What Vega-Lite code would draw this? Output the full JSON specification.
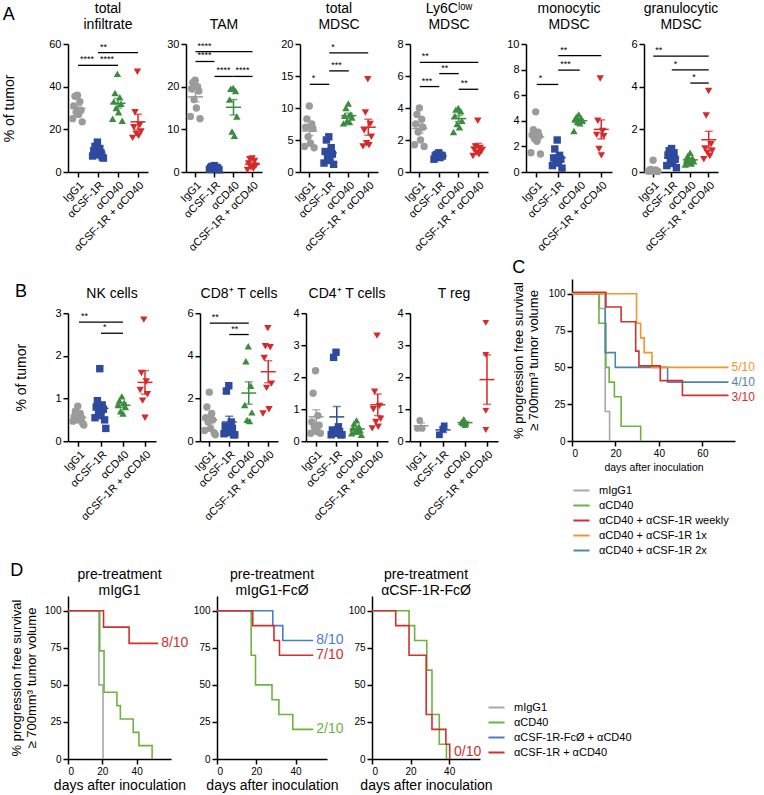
{
"$schema": "https://vega.github.io/schema/vega-lite/v6.json",
"background": "white",
"padding": {"left": 2, "top": 2, "right": 2, "bottom": 2},
"config": {
 "font": "Liberation Sans",
 "view": {"stroke": null},
 "axis": {"grid": false, "domainColor": "black", "domainWidth": 1.5, "tickColor": "black", "tickWidth": 1.5, "tickSize": 5, "labelColor": "black", "labelFontSize": 11, "titleColor": "black", "titleFontSize": 14, "titleFontWeight": "normal", "labelPadding": 2},
 "title": {"fontWeight": "normal", "fontSize": 14, "color": "black", "offset": 6},
 "legend": {"labelFontSize": 11, "labelColor": "black", "symbolType": "stroke", "symbolStrokeWidth": 2, "symbolSize": 260, "rowPadding": 0, "labelOffset": 8}
},
"datasets": {
 "dots": [
  {"panel":"infiltrate","group":"IgG1","mouse":5,"value":36},{"panel":"infiltrate","group":"IgG1","mouse":3,"value":35.5},{"panel":"infiltrate","group":"IgG1","mouse":7,"value":33},{"panel":"infiltrate","group":"IgG1","mouse":2,"value":31},{"panel":"infiltrate","group":"IgG1","mouse":8,"value":29},{"panel":"infiltrate","group":"IgG1","mouse":4,"value":28},{"panel":"infiltrate","group":"IgG1","mouse":6,"value":27},{"panel":"infiltrate","group":"IgG1","mouse":1,"value":25},{"panel":"infiltrate","group":"IgG1","mouse":9,"value":23.5},
  {"panel":"infiltrate","group":"αCSF-1R","mouse":5,"value":14},{"panel":"infiltrate","group":"αCSF-1R","mouse":3,"value":12},{"panel":"infiltrate","group":"αCSF-1R","mouse":7,"value":11},{"panel":"infiltrate","group":"αCSF-1R","mouse":2,"value":10},{"panel":"infiltrate","group":"αCSF-1R","mouse":8,"value":9},{"panel":"infiltrate","group":"αCSF-1R","mouse":4,"value":8.5},{"panel":"infiltrate","group":"αCSF-1R","mouse":6,"value":8},{"panel":"infiltrate","group":"αCSF-1R","mouse":1,"value":7.5},{"panel":"infiltrate","group":"αCSF-1R","mouse":9,"value":7},{"panel":"infiltrate","group":"αCSF-1R","mouse":10,"value":6.5},
  {"panel":"infiltrate","group":"αCD40","mouse":5,"value":46},{"panel":"infiltrate","group":"αCD40","mouse":3,"value":37},{"panel":"infiltrate","group":"αCD40","mouse":7,"value":35},{"panel":"infiltrate","group":"αCD40","mouse":2,"value":33},{"panel":"infiltrate","group":"αCD40","mouse":8,"value":32},{"panel":"infiltrate","group":"αCD40","mouse":4,"value":30},{"panel":"infiltrate","group":"αCD40","mouse":6,"value":28},{"panel":"infiltrate","group":"αCD40","mouse":1,"value":25},{"panel":"infiltrate","group":"αCD40","mouse":9,"value":24},
  {"panel":"infiltrate","group":"αCSF-1R + αCD40","mouse":5,"value":47},{"panel":"infiltrate","group":"αCSF-1R + αCD40","mouse":3,"value":28},{"panel":"infiltrate","group":"αCSF-1R + αCD40","mouse":7,"value":22},{"panel":"infiltrate","group":"αCSF-1R + αCD40","mouse":2,"value":21},{"panel":"infiltrate","group":"αCSF-1R + αCD40","mouse":8,"value":19},{"panel":"infiltrate","group":"αCSF-1R + αCD40","mouse":4,"value":18},{"panel":"infiltrate","group":"αCSF-1R + αCD40","mouse":6,"value":17},{"panel":"infiltrate","group":"αCSF-1R + αCD40","mouse":1,"value":16},

  {"panel":"TAM","group":"IgG1","mouse":5,"value":21.5},{"panel":"TAM","group":"IgG1","mouse":3,"value":21},{"panel":"TAM","group":"IgG1","mouse":7,"value":20},{"panel":"TAM","group":"IgG1","mouse":2,"value":19.5},{"panel":"TAM","group":"IgG1","mouse":8,"value":19},{"panel":"TAM","group":"IgG1","mouse":4,"value":17},{"panel":"TAM","group":"IgG1","mouse":6,"value":15},{"panel":"TAM","group":"IgG1","mouse":1,"value":13},{"panel":"TAM","group":"IgG1","mouse":9,"value":12.5},
  {"panel":"TAM","group":"αCSF-1R","mouse":5,"value":1.5},{"panel":"TAM","group":"αCSF-1R","mouse":3,"value":1.3},{"panel":"TAM","group":"αCSF-1R","mouse":7,"value":1.1},{"panel":"TAM","group":"αCSF-1R","mouse":2,"value":1.0},{"panel":"TAM","group":"αCSF-1R","mouse":8,"value":0.9},{"panel":"TAM","group":"αCSF-1R","mouse":4,"value":0.8},{"panel":"TAM","group":"αCSF-1R","mouse":6,"value":0.7},{"panel":"TAM","group":"αCSF-1R","mouse":1,"value":0.6},{"panel":"TAM","group":"αCSF-1R","mouse":9,"value":0.5},
  {"panel":"TAM","group":"αCD40","mouse":5,"value":19.7},{"panel":"TAM","group":"αCD40","mouse":3,"value":19.5},{"panel":"TAM","group":"αCD40","mouse":7,"value":19},{"panel":"TAM","group":"αCD40","mouse":2,"value":17},{"panel":"TAM","group":"αCD40","mouse":8,"value":13},{"panel":"TAM","group":"αCD40","mouse":4,"value":9.5},{"panel":"TAM","group":"αCD40","mouse":6,"value":8.5},
  {"panel":"TAM","group":"αCSF-1R + αCD40","mouse":5,"value":3.2},{"panel":"TAM","group":"αCSF-1R + αCD40","mouse":3,"value":3},{"panel":"TAM","group":"αCSF-1R + αCD40","mouse":7,"value":2.6},{"panel":"TAM","group":"αCSF-1R + αCD40","mouse":2,"value":2},{"panel":"TAM","group":"αCSF-1R + αCD40","mouse":8,"value":1.5},{"panel":"TAM","group":"αCSF-1R + αCD40","mouse":4,"value":1.1},{"panel":"TAM","group":"αCSF-1R + αCD40","mouse":6,"value":0.8},{"panel":"TAM","group":"αCSF-1R + αCD40","mouse":1,"value":0.5},

  {"panel":"MDSC","group":"IgG1","mouse":5,"value":10.3},{"panel":"MDSC","group":"IgG1","mouse":3,"value":8.3},{"panel":"MDSC","group":"IgG1","mouse":7,"value":7.5},{"panel":"MDSC","group":"IgG1","mouse":2,"value":7},{"panel":"MDSC","group":"IgG1","mouse":8,"value":6.8},{"panel":"MDSC","group":"IgG1","mouse":4,"value":5.5},{"panel":"MDSC","group":"IgG1","mouse":6,"value":4.5},{"panel":"MDSC","group":"IgG1","mouse":1,"value":4},{"panel":"MDSC","group":"IgG1","mouse":9,"value":3.8},
  {"panel":"MDSC","group":"αCSF-1R","mouse":5,"value":5.5},{"panel":"MDSC","group":"αCSF-1R","mouse":3,"value":5},{"panel":"MDSC","group":"αCSF-1R","mouse":7,"value":3.8},{"panel":"MDSC","group":"αCSF-1R","mouse":2,"value":3.2},{"panel":"MDSC","group":"αCSF-1R","mouse":8,"value":2.8},{"panel":"MDSC","group":"αCSF-1R","mouse":4,"value":2.2},{"panel":"MDSC","group":"αCSF-1R","mouse":6,"value":1.8},{"panel":"MDSC","group":"αCSF-1R","mouse":1,"value":1.4},{"panel":"MDSC","group":"αCSF-1R","mouse":9,"value":1.2},
  {"panel":"MDSC","group":"αCD40","mouse":5,"value":10.7},{"panel":"MDSC","group":"αCD40","mouse":3,"value":10},{"panel":"MDSC","group":"αCD40","mouse":7,"value":9},{"panel":"MDSC","group":"αCD40","mouse":2,"value":8.8},{"panel":"MDSC","group":"αCD40","mouse":8,"value":8.5},{"panel":"MDSC","group":"αCD40","mouse":4,"value":8},{"panel":"MDSC","group":"αCD40","mouse":6,"value":7.8},{"panel":"MDSC","group":"αCD40","mouse":1,"value":7.6},
  {"panel":"MDSC","group":"αCSF-1R + αCD40","mouse":5,"value":14.5},{"panel":"MDSC","group":"αCSF-1R + αCD40","mouse":3,"value":9.3},{"panel":"MDSC","group":"αCSF-1R + αCD40","mouse":7,"value":7.5},{"panel":"MDSC","group":"αCSF-1R + αCD40","mouse":2,"value":6.5},{"panel":"MDSC","group":"αCSF-1R + αCD40","mouse":8,"value":5.5},{"panel":"MDSC","group":"αCSF-1R + αCD40","mouse":4,"value":4.5},{"panel":"MDSC","group":"αCSF-1R + αCD40","mouse":6,"value":4.2},{"panel":"MDSC","group":"αCSF-1R + αCD40","mouse":1,"value":4.0},

  {"panel":"Ly6C","group":"IgG1","mouse":5,"value":4.0},{"panel":"Ly6C","group":"IgG1","mouse":3,"value":3.6},{"panel":"Ly6C","group":"IgG1","mouse":7,"value":3.3},{"panel":"Ly6C","group":"IgG1","mouse":2,"value":3.0},{"panel":"Ly6C","group":"IgG1","mouse":8,"value":2.8},{"panel":"Ly6C","group":"IgG1","mouse":4,"value":2.5},{"panel":"Ly6C","group":"IgG1","mouse":6,"value":2.0},{"panel":"Ly6C","group":"IgG1","mouse":1,"value":1.7},{"panel":"Ly6C","group":"IgG1","mouse":9,"value":1.6},
  {"panel":"Ly6C","group":"αCSF-1R","mouse":5,"value":1.2},{"panel":"Ly6C","group":"αCSF-1R","mouse":3,"value":1.1},{"panel":"Ly6C","group":"αCSF-1R","mouse":7,"value":1.05},{"panel":"Ly6C","group":"αCSF-1R","mouse":2,"value":1},{"panel":"Ly6C","group":"αCSF-1R","mouse":8,"value":1},{"panel":"Ly6C","group":"αCSF-1R","mouse":4,"value":0.95},{"panel":"Ly6C","group":"αCSF-1R","mouse":6,"value":0.9},{"panel":"Ly6C","group":"αCSF-1R","mouse":1,"value":0.8},
  {"panel":"Ly6C","group":"αCD40","mouse":5,"value":4.0},{"panel":"Ly6C","group":"αCD40","mouse":3,"value":3.9},{"panel":"Ly6C","group":"αCD40","mouse":7,"value":3.8},{"panel":"Ly6C","group":"αCD40","mouse":2,"value":3.5},{"panel":"Ly6C","group":"αCD40","mouse":8,"value":3.2},{"panel":"Ly6C","group":"αCD40","mouse":4,"value":3.0},{"panel":"Ly6C","group":"αCD40","mouse":6,"value":2.8},{"panel":"Ly6C","group":"αCD40","mouse":1,"value":2.5},
  {"panel":"Ly6C","group":"αCSF-1R + αCD40","mouse":5,"value":3.2},{"panel":"Ly6C","group":"αCSF-1R + αCD40","mouse":3,"value":1.6},{"panel":"Ly6C","group":"αCSF-1R + αCD40","mouse":7,"value":1.5},{"panel":"Ly6C","group":"αCSF-1R + αCD40","mouse":2,"value":1.4},{"panel":"Ly6C","group":"αCSF-1R + αCD40","mouse":8,"value":1.3},{"panel":"Ly6C","group":"αCSF-1R + αCD40","mouse":4,"value":1.2},{"panel":"Ly6C","group":"αCSF-1R + αCD40","mouse":6,"value":1.1},{"panel":"Ly6C","group":"αCSF-1R + αCD40","mouse":1,"value":1.0},

  {"panel":"mono","group":"IgG1","mouse":5,"value":4.7},{"panel":"mono","group":"IgG1","mouse":3,"value":3.3},{"panel":"mono","group":"IgG1","mouse":7,"value":3.1},{"panel":"mono","group":"IgG1","mouse":2,"value":2.9},{"panel":"mono","group":"IgG1","mouse":8,"value":2.8},{"panel":"mono","group":"IgG1","mouse":4,"value":2.6},{"panel":"mono","group":"IgG1","mouse":6,"value":2.4},{"panel":"mono","group":"IgG1","mouse":1,"value":1.5},{"panel":"mono","group":"IgG1","mouse":9,"value":1.4},
  {"panel":"mono","group":"αCSF-1R","mouse":5,"value":2.5},{"panel":"mono","group":"αCSF-1R","mouse":3,"value":1.8},{"panel":"mono","group":"αCSF-1R","mouse":7,"value":1.3},{"panel":"mono","group":"αCSF-1R","mouse":2,"value":1.1},{"panel":"mono","group":"αCSF-1R","mouse":8,"value":1.0},{"panel":"mono","group":"αCSF-1R","mouse":4,"value":0.9},{"panel":"mono","group":"αCSF-1R","mouse":6,"value":0.7},{"panel":"mono","group":"αCSF-1R","mouse":1,"value":0.5},{"panel":"mono","group":"αCSF-1R","mouse":9,"value":0.3},
  {"panel":"mono","group":"αCD40","mouse":5,"value":4.5},{"panel":"mono","group":"αCD40","mouse":3,"value":4.3},{"panel":"mono","group":"αCD40","mouse":7,"value":4.2},{"panel":"mono","group":"αCD40","mouse":2,"value":4.1},{"panel":"mono","group":"αCD40","mouse":8,"value":4.0},{"panel":"mono","group":"αCD40","mouse":4,"value":3.9},{"panel":"mono","group":"αCD40","mouse":6,"value":3.8},{"panel":"mono","group":"αCD40","mouse":1,"value":3.2},
  {"panel":"mono","group":"αCSF-1R + αCD40","mouse":5,"value":7.3},{"panel":"mono","group":"αCSF-1R + αCD40","mouse":3,"value":4.0},{"panel":"mono","group":"αCSF-1R + αCD40","mouse":7,"value":3.2},{"panel":"mono","group":"αCSF-1R + αCD40","mouse":2,"value":2.9},{"panel":"mono","group":"αCSF-1R + αCD40","mouse":8,"value":2.8},{"panel":"mono","group":"αCSF-1R + αCD40","mouse":4,"value":1.8},{"panel":"mono","group":"αCSF-1R + αCD40","mouse":6,"value":1.3},

  {"panel":"gran","group":"IgG1","mouse":5,"value":0.55},{"panel":"gran","group":"IgG1","mouse":3,"value":0.12},{"panel":"gran","group":"IgG1","mouse":7,"value":0.1},{"panel":"gran","group":"IgG1","mouse":2,"value":0.08},{"panel":"gran","group":"IgG1","mouse":8,"value":0.06},{"panel":"gran","group":"IgG1","mouse":4,"value":0.05},{"panel":"gran","group":"IgG1","mouse":6,"value":0.04},{"panel":"gran","group":"IgG1","mouse":1,"value":0.03},{"panel":"gran","group":"IgG1","mouse":9,"value":0.02},
  {"panel":"gran","group":"αCSF-1R","mouse":5,"value":1.1},{"panel":"gran","group":"αCSF-1R","mouse":3,"value":1.0},{"panel":"gran","group":"αCSF-1R","mouse":7,"value":0.9},{"panel":"gran","group":"αCSF-1R","mouse":2,"value":0.8},{"panel":"gran","group":"αCSF-1R","mouse":8,"value":0.6},{"panel":"gran","group":"αCSF-1R","mouse":4,"value":0.5},{"panel":"gran","group":"αCSF-1R","mouse":6,"value":0.4},{"panel":"gran","group":"αCSF-1R","mouse":1,"value":0.3},{"panel":"gran","group":"αCSF-1R","mouse":9,"value":0.2},
  {"panel":"gran","group":"αCD40","mouse":5,"value":0.9},{"panel":"gran","group":"αCD40","mouse":3,"value":0.75},{"panel":"gran","group":"αCD40","mouse":7,"value":0.65},{"panel":"gran","group":"αCD40","mouse":2,"value":0.55},{"panel":"gran","group":"αCD40","mouse":8,"value":0.5},{"panel":"gran","group":"αCD40","mouse":4,"value":0.45},{"panel":"gran","group":"αCD40","mouse":6,"value":0.4},{"panel":"gran","group":"αCD40","mouse":1,"value":0.35},
  {"panel":"gran","group":"αCSF-1R + αCD40","mouse":5,"value":3.8},{"panel":"gran","group":"αCSF-1R + αCD40","mouse":3,"value":2.65},{"panel":"gran","group":"αCSF-1R + αCD40","mouse":7,"value":1.3},{"panel":"gran","group":"αCSF-1R + αCD40","mouse":2,"value":1.1},{"panel":"gran","group":"αCSF-1R + αCD40","mouse":8,"value":1.0},{"panel":"gran","group":"αCSF-1R + αCD40","mouse":4,"value":0.9},{"panel":"gran","group":"αCSF-1R + αCD40","mouse":6,"value":0.75},{"panel":"gran","group":"αCSF-1R + αCD40","mouse":1,"value":0.6},

  {"panel":"NK","group":"IgG1","mouse":5,"value":0.82},{"panel":"NK","group":"IgG1","mouse":3,"value":0.7},{"panel":"NK","group":"IgG1","mouse":7,"value":0.65},{"panel":"NK","group":"IgG1","mouse":2,"value":0.58},{"panel":"NK","group":"IgG1","mouse":8,"value":0.55},{"panel":"NK","group":"IgG1","mouse":4,"value":0.5},{"panel":"NK","group":"IgG1","mouse":6,"value":0.5},{"panel":"NK","group":"IgG1","mouse":1,"value":0.47},{"panel":"NK","group":"IgG1","mouse":9,"value":0.42},{"panel":"NK","group":"IgG1","mouse":10,"value":0.38},
  {"panel":"NK","group":"αCSF-1R","mouse":5,"value":1.7},{"panel":"NK","group":"αCSF-1R","mouse":3,"value":0.95},{"panel":"NK","group":"αCSF-1R","mouse":7,"value":0.85},{"panel":"NK","group":"αCSF-1R","mouse":2,"value":0.8},{"panel":"NK","group":"αCSF-1R","mouse":8,"value":0.75},{"panel":"NK","group":"αCSF-1R","mouse":4,"value":0.7},{"panel":"NK","group":"αCSF-1R","mouse":6,"value":0.6},{"panel":"NK","group":"αCSF-1R","mouse":1,"value":0.55},{"panel":"NK","group":"αCSF-1R","mouse":9,"value":0.5},{"panel":"NK","group":"αCSF-1R","mouse":10,"value":0.3},
  {"panel":"NK","group":"αCD40","mouse":5,"value":1.05},{"panel":"NK","group":"αCD40","mouse":3,"value":0.95},{"panel":"NK","group":"αCD40","mouse":7,"value":0.9},{"panel":"NK","group":"αCD40","mouse":2,"value":0.85},{"panel":"NK","group":"αCD40","mouse":8,"value":0.8},{"panel":"NK","group":"αCD40","mouse":4,"value":0.7},{"panel":"NK","group":"αCD40","mouse":6,"value":0.65},
  {"panel":"NK","group":"αCSF-1R + αCD40","mouse":5,"value":2.85},{"panel":"NK","group":"αCSF-1R + αCD40","mouse":3,"value":1.6},{"panel":"NK","group":"αCSF-1R + αCD40","mouse":7,"value":1.4},{"panel":"NK","group":"αCSF-1R + αCD40","mouse":2,"value":1.2},{"panel":"NK","group":"αCSF-1R + αCD40","mouse":8,"value":1.1},{"panel":"NK","group":"αCSF-1R + αCD40","mouse":4,"value":0.95},{"panel":"NK","group":"αCSF-1R + αCD40","mouse":6,"value":0.55},

  {"panel":"CD8","group":"IgG1","mouse":5,"value":2.3},{"panel":"CD8","group":"IgG1","mouse":3,"value":1.6},{"panel":"CD8","group":"IgG1","mouse":7,"value":1.3},{"panel":"CD8","group":"IgG1","mouse":2,"value":1.1},{"panel":"CD8","group":"IgG1","mouse":8,"value":1.0},{"panel":"CD8","group":"IgG1","mouse":4,"value":0.9},{"panel":"CD8","group":"IgG1","mouse":6,"value":0.6},{"panel":"CD8","group":"IgG1","mouse":1,"value":0.5},{"panel":"CD8","group":"IgG1","mouse":9,"value":0.4},{"panel":"CD8","group":"IgG1","mouse":10,"value":0.3},
  {"panel":"CD8","group":"αCSF-1R","mouse":5,"value":2.6},{"panel":"CD8","group":"αCSF-1R","mouse":3,"value":2.35},{"panel":"CD8","group":"αCSF-1R","mouse":7,"value":0.9},{"panel":"CD8","group":"αCSF-1R","mouse":2,"value":0.7},{"panel":"CD8","group":"αCSF-1R","mouse":8,"value":0.6},{"panel":"CD8","group":"αCSF-1R","mouse":4,"value":0.5},{"panel":"CD8","group":"αCSF-1R","mouse":6,"value":0.4},{"panel":"CD8","group":"αCSF-1R","mouse":1,"value":0.35},{"panel":"CD8","group":"αCSF-1R","mouse":9,"value":0.3},{"panel":"CD8","group":"αCSF-1R","mouse":10,"value":0.3},
  {"panel":"CD8","group":"αCD40","mouse":5,"value":4.45},{"panel":"CD8","group":"αCD40","mouse":3,"value":3.75},{"panel":"CD8","group":"αCD40","mouse":7,"value":2.6},{"panel":"CD8","group":"αCD40","mouse":2,"value":1.7},{"panel":"CD8","group":"αCD40","mouse":8,"value":1.35},{"panel":"CD8","group":"αCD40","mouse":4,"value":1.0},{"panel":"CD8","group":"αCD40","mouse":6,"value":0.95},
  {"panel":"CD8","group":"αCSF-1R + αCD40","mouse":5,"value":5.3},{"panel":"CD8","group":"αCSF-1R + αCD40","mouse":3,"value":4.45},{"panel":"CD8","group":"αCSF-1R + αCD40","mouse":7,"value":4.4},{"panel":"CD8","group":"αCSF-1R + αCD40","mouse":2,"value":3.9},{"panel":"CD8","group":"αCSF-1R + αCD40","mouse":8,"value":2.7},{"panel":"CD8","group":"αCSF-1R + αCD40","mouse":4,"value":2.5},{"panel":"CD8","group":"αCSF-1R + αCD40","mouse":6,"value":1.5},{"panel":"CD8","group":"αCSF-1R + αCD40","mouse":1,"value":1.3},

  {"panel":"CD4","group":"IgG1","mouse":5,"value":2.2},{"panel":"CD4","group":"IgG1","mouse":3,"value":1.5},{"panel":"CD4","group":"IgG1","mouse":7,"value":0.8},{"panel":"CD4","group":"IgG1","mouse":2,"value":0.6},{"panel":"CD4","group":"IgG1","mouse":8,"value":0.5},{"panel":"CD4","group":"IgG1","mouse":4,"value":0.45},{"panel":"CD4","group":"IgG1","mouse":6,"value":0.3},{"panel":"CD4","group":"IgG1","mouse":1,"value":0.25},{"panel":"CD4","group":"IgG1","mouse":9,"value":0.25},
  {"panel":"CD4","group":"αCSF-1R","mouse":5,"value":2.78},{"panel":"CD4","group":"αCSF-1R","mouse":3,"value":2.62},{"panel":"CD4","group":"αCSF-1R","mouse":7,"value":0.45},{"panel":"CD4","group":"αCSF-1R","mouse":2,"value":0.35},{"panel":"CD4","group":"αCSF-1R","mouse":8,"value":0.3},{"panel":"CD4","group":"αCSF-1R","mouse":4,"value":0.25},{"panel":"CD4","group":"αCSF-1R","mouse":6,"value":0.25},{"panel":"CD4","group":"αCSF-1R","mouse":1,"value":0.2},{"panel":"CD4","group":"αCSF-1R","mouse":9,"value":0.2},{"panel":"CD4","group":"αCSF-1R","mouse":10,"value":0.2},
  {"panel":"CD4","group":"αCD40","mouse":5,"value":0.65},{"panel":"CD4","group":"αCD40","mouse":3,"value":0.55},{"panel":"CD4","group":"αCD40","mouse":7,"value":0.45},{"panel":"CD4","group":"αCD40","mouse":2,"value":0.4},{"panel":"CD4","group":"αCD40","mouse":8,"value":0.35},{"panel":"CD4","group":"αCD40","mouse":4,"value":0.3},{"panel":"CD4","group":"αCD40","mouse":6,"value":0.3},{"panel":"CD4","group":"αCD40","mouse":1,"value":0.25},{"panel":"CD4","group":"αCD40","mouse":9,"value":0.2},
  {"panel":"CD4","group":"αCSF-1R + αCD40","mouse":5,"value":3.3},{"panel":"CD4","group":"αCSF-1R + αCD40","mouse":3,"value":1.55},{"panel":"CD4","group":"αCSF-1R + αCD40","mouse":7,"value":1.1},{"panel":"CD4","group":"αCSF-1R + αCD40","mouse":2,"value":1.0},{"panel":"CD4","group":"αCSF-1R + αCD40","mouse":8,"value":0.7},{"panel":"CD4","group":"αCSF-1R + αCD40","mouse":4,"value":0.6},{"panel":"CD4","group":"αCSF-1R + αCD40","mouse":6,"value":0.45},{"panel":"CD4","group":"αCSF-1R + αCD40","mouse":1,"value":0.4},

  {"panel":"Treg","group":"IgG1","mouse":5,"value":0.65},{"panel":"Treg","group":"IgG1","mouse":3,"value":0.4},{"panel":"Treg","group":"IgG1","mouse":7,"value":0.4},
  {"panel":"Treg","group":"αCSF-1R","mouse":7,"value":0.48},{"panel":"Treg","group":"αCSF-1R","mouse":6,"value":0.38},{"panel":"Treg","group":"αCSF-1R","mouse":3,"value":0.2},
  {"panel":"Treg","group":"αCD40","mouse":5,"value":0.7},{"panel":"Treg","group":"αCD40","mouse":3,"value":0.6},{"panel":"Treg","group":"αCD40","mouse":7,"value":0.55},{"panel":"Treg","group":"αCD40","mouse":4,"value":0.55},{"panel":"Treg","group":"αCD40","mouse":6,"value":0.5},
  {"panel":"Treg","group":"αCSF-1R + αCD40","mouse":5,"value":3.7},{"panel":"Treg","group":"αCSF-1R + αCD40","mouse":5,"value":2.7},{"panel":"Treg","group":"αCSF-1R + αCD40","mouse":5,"value":0.95},{"panel":"Treg","group":"αCSF-1R + αCD40","mouse":5,"value":0.35}
 ],
 "sig": [
  {"panel":"infiltrate","group":"IgG1","group2":"αCSF-1R","value":50,"stars":"****"},
  {"panel":"infiltrate","group":"αCSF-1R","group2":"αCD40","value":50,"stars":"****"},
  {"panel":"infiltrate","group":"αCSF-1R","group2":"αCSF-1R + αCD40","value":56,"stars":"**"},
  {"panel":"TAM","group":"IgG1","group2":"αCSF-1R + αCD40","value":28.2,"stars":"****"},
  {"panel":"TAM","group":"IgG1","group2":"αCSF-1R","value":25.9,"stars":"****"},
  {"panel":"TAM","group":"αCSF-1R","group2":"αCD40","value":22.4,"stars":"****"},
  {"panel":"TAM","group":"αCD40","group2":"αCSF-1R + αCD40","value":22.4,"stars":"****"},
  {"panel":"MDSC","group":"IgG1","group2":"αCSF-1R","value":13.7,"stars":"*"},
  {"panel":"MDSC","group":"αCSF-1R","group2":"αCD40","value":15.8,"stars":"***"},
  {"panel":"MDSC","group":"αCSF-1R","group2":"αCSF-1R + αCD40","value":18.6,"stars":"*"},
  {"panel":"Ly6C","group":"IgG1","group2":"αCSF-1R + αCD40","value":6.85,"stars":"**"},
  {"panel":"Ly6C","group":"αCSF-1R","group2":"αCD40","value":6.15,"stars":"**"},
  {"panel":"Ly6C","group":"IgG1","group2":"αCSF-1R","value":5.34,"stars":"***"},
  {"panel":"Ly6C","group":"αCD40","group2":"αCSF-1R + αCD40","value":5.17,"stars":"**"},
  {"panel":"mono","group":"IgG1","group2":"αCSF-1R","value":6.84,"stars":"*"},
  {"panel":"mono","group":"αCSF-1R","group2":"αCD40","value":7.96,"stars":"***"},
  {"panel":"mono","group":"αCSF-1R","group2":"αCSF-1R + αCD40","value":9.09,"stars":"**"},
  {"panel":"gran","group":"IgG1","group2":"αCSF-1R + αCD40","value":5.43,"stars":"**"},
  {"panel":"gran","group":"αCSF-1R","group2":"αCSF-1R + αCD40","value":4.79,"stars":"*"},
  {"panel":"gran","group":"αCD40","group2":"αCSF-1R + αCD40","value":4.17,"stars":"*"},
  {"panel":"NK","group":"IgG1","group2":"αCD40","value":2.79,"stars":"**"},
  {"panel":"NK","group":"αCSF-1R","group2":"αCD40","value":2.53,"stars":"*"},
  {"panel":"CD8","group":"IgG1","group2":"αCD40","value":5.53,"stars":"**"},
  {"panel":"CD8","group":"αCSF-1R","group2":"αCD40","value":5.0,"stars":"**"}
 ],
 "surv": [
  {"panel":"C","series":"mIgG1","day":0,"pct":100},{"panel":"C","series":"mIgG1","day":12.6,"pct":90},{"panel":"C","series":"mIgG1","day":15.3,"pct":20},{"panel":"C","series":"mIgG1","day":17.3,"pct":0},
  {"panel":"C","series":"αCD40","day":0,"pct":100},{"panel":"C","series":"αCD40","day":12.4,"pct":80},{"panel":"C","series":"αCD40","day":15.6,"pct":50},{"panel":"C","series":"αCD40","day":17.1,"pct":40},{"panel":"C","series":"αCD40","day":19.5,"pct":30},{"panel":"C","series":"αCD40","day":22.6,"pct":10},{"panel":"C","series":"αCD40","day":31.6,"pct":0},
  {"panel":"C","series":"αCD40 + αCSF-1R 2x","day":0,"pct":100},{"panel":"C","series":"αCD40 + αCSF-1R 2x","day":15.3,"pct":60},{"panel":"C","series":"αCD40 + αCSF-1R 2x","day":19.9,"pct":50},{"panel":"C","series":"αCD40 + αCSF-1R 2x","day":44,"pct":40},{"panel":"C","series":"αCD40 + αCSF-1R 2x","day":72,"pct":40},
  {"panel":"C","series":"αCD40 + αCSF-1R 1x","day":0,"pct":100},{"panel":"C","series":"αCD40 + αCSF-1R 1x","day":29.7,"pct":80},{"panel":"C","series":"αCD40 + αCSF-1R 1x","day":31.6,"pct":70},{"panel":"C","series":"αCD40 + αCSF-1R 1x","day":33.2,"pct":60},{"panel":"C","series":"αCD40 + αCSF-1R 1x","day":36.8,"pct":50},{"panel":"C","series":"αCD40 + αCSF-1R 1x","day":72,"pct":50},
  {"panel":"C","series":"αCD40 + αCSF-1R weekly","day":0,"pct":101},{"panel":"C","series":"αCD40 + αCSF-1R weekly","day":15.6,"pct":91},{"panel":"C","series":"αCD40 + αCSF-1R weekly","day":22.6,"pct":81},{"panel":"C","series":"αCD40 + αCSF-1R weekly","day":29.3,"pct":61},{"panel":"C","series":"αCD40 + αCSF-1R weekly","day":30.8,"pct":51},{"panel":"C","series":"αCD40 + αCSF-1R weekly","day":40.6,"pct":41},{"panel":"C","series":"αCD40 + αCSF-1R weekly","day":50.8,"pct":31},{"panel":"C","series":"αCD40 + αCSF-1R weekly","day":72,"pct":31},

  {"panel":"D1","series":"mIgG1","day":0,"pct":100},{"panel":"D1","series":"mIgG1","day":18,"pct":50},{"panel":"D1","series":"mIgG1","day":20.4,"pct":0},
  {"panel":"D1","series":"αCD40","day":0,"pct":100},{"panel":"D1","series":"αCD40","day":18.5,"pct":73},{"panel":"D1","series":"αCD40","day":21,"pct":45},{"panel":"D1","series":"αCD40","day":28.5,"pct":36},{"panel":"D1","series":"αCD40","day":30.5,"pct":27},{"panel":"D1","series":"αCD40","day":38,"pct":18},{"panel":"D1","series":"αCD40","day":41.3,"pct":9},{"panel":"D1","series":"αCD40","day":49,"pct":0},
  {"panel":"D1","series":"αCSF-1R + αCD40","day":0,"pct":100},{"panel":"D1","series":"αCSF-1R + αCD40","day":20.7,"pct":89},{"panel":"D1","series":"αCSF-1R + αCD40","day":35.6,"pct":78},{"panel":"D1","series":"αCSF-1R + αCD40","day":52.5,"pct":78},

  {"panel":"D2","series":"αCD40","day":0,"pct":100},{"panel":"D2","series":"αCD40","day":17.4,"pct":70},{"panel":"D2","series":"αCD40","day":19.6,"pct":50},{"panel":"D2","series":"αCD40","day":28,"pct":40},{"panel":"D2","series":"αCD40","day":31.5,"pct":30},{"panel":"D2","series":"αCD40","day":38.6,"pct":20},{"panel":"D2","series":"αCD40","day":49,"pct":20},
  {"panel":"D2","series":"αCSF-1R-FcØ + αCD40","day":0,"pct":100},{"panel":"D2","series":"αCSF-1R-FcØ + αCD40","day":28.4,"pct":90},{"panel":"D2","series":"αCSF-1R-FcØ + αCD40","day":33.5,"pct":80},{"panel":"D2","series":"αCSF-1R-FcØ + αCD40","day":49,"pct":80},
  {"panel":"D2","series":"αCSF-1R + αCD40","day":0,"pct":100},{"panel":"D2","series":"αCSF-1R + αCD40","day":18.2,"pct":90},{"panel":"D2","series":"αCSF-1R + αCD40","day":29,"pct":80},{"panel":"D2","series":"αCSF-1R + αCD40","day":31.8,"pct":70},{"panel":"D2","series":"αCSF-1R + αCD40","day":49,"pct":70},

  {"panel":"D3","series":"αCD40","day":0,"pct":100},{"panel":"D3","series":"αCD40","day":19.2,"pct":90},{"panel":"D3","series":"αCD40","day":22.1,"pct":80},{"panel":"D3","series":"αCD40","day":28.4,"pct":60},{"panel":"D3","series":"αCD40","day":31.1,"pct":30},{"panel":"D3","series":"αCD40","day":34.9,"pct":10},{"panel":"D3","series":"αCD40","day":38.6,"pct":0},
  {"panel":"D3","series":"αCSF-1R + αCD40","day":0,"pct":100},{"panel":"D3","series":"αCSF-1R + αCD40","day":12.3,"pct":90},{"panel":"D3","series":"αCSF-1R + αCD40","day":19.2,"pct":70},{"panel":"D3","series":"αCSF-1R + αCD40","day":28.1,"pct":30},{"panel":"D3","series":"αCSF-1R + αCD40","day":31.1,"pct":20},{"panel":"D3","series":"αCSF-1R + αCD40","day":38.3,"pct":10},{"panel":"D3","series":"αCSF-1R + αCD40","day":40.3,"pct":0}
 ],
 "survLabels": [
  {"panel":"C","series":"αCD40 + αCSF-1R 1x","day":72,"pct":50,"label":"5/10"},
  {"panel":"C","series":"αCD40 + αCSF-1R 2x","day":72,"pct":40,"label":"4/10"},
  {"panel":"C","series":"αCD40 + αCSF-1R weekly","day":72,"pct":30,"label":"3/10"},
  {"panel":"D1","series":"αCSF-1R + αCD40","day":52.5,"pct":78,"label":"8/10"},
  {"panel":"D2","series":"αCSF-1R-FcØ + αCD40","day":49,"pct":80,"label":"8/10"},
  {"panel":"D2","series":"αCSF-1R + αCD40","day":49,"pct":70,"label":"7/10"},
  {"panel":"D2","series":"αCD40","day":49,"pct":20,"label":"2/10"},
  {"panel":"D3","series":"αCSF-1R + αCD40","day":41,"pct":5,"label":"0/10"}
 ]
},
"spacing": 6,
"resolve": {"scale": {"color": "independent", "shape": "independent"}},
"vconcat": [
 {
  "title": {"text": "A", "anchor": "start", "fontSize": 18, "offset": -22},
  "spacing": 18,
  "hconcat": [
   {
    "width": 80, "height": 128,
    "title": {"text": ["total", "infiltrate"]},
    "encoding": {
     "x": {"field": "group", "type": "nominal", "scale": {"domain": ["IgG1","αCSF-1R","αCD40","αCSF-1R + αCD40"], "paddingInner": 0.4, "paddingOuter": 0.2}, "axis": {"title": null, "labelAngle": -45}},
     "y": {"field": "value", "type": "quantitative", "scale": {"domain": [0, 60]}, "axis": {"title": "% of tumor", "values": [0, 20, 40, 60], "titlePadding": 32}},
     "color": {"field": "group", "type": "nominal", "scale": {"domain": ["IgG1","αCSF-1R","αCD40","αCSF-1R + αCD40"], "range": ["#9b9b9b","#2e4a9e","#3b8c3f","#d62a2a"]}, "legend": null}
    },
    "layer": [
     {"data": {"name": "dots"}, "transform": [{"filter": "datum.panel === 'infiltrate'"}], "mark": {"type": "point", "filled": true, "opacity": 1, "size": 55}, "encoding": {"xOffset": {"field": "mouse", "type": "nominal", "scale": {"domain": [1,2,3,4,5,6,7,8,9,10]}}, "shape": {"field": "group", "type": "nominal", "scale": {"domain": ["IgG1","αCSF-1R","αCD40","αCSF-1R + αCD40"], "range": ["circle","square","triangle-up","triangle-down"]}, "legend": null}}},
     {"data": {"name": "dots"}, "transform": [{"filter": "datum.panel === 'infiltrate'"}], "mark": {"type": "errorbar", "extent": "stderr", "thickness": 1.5, "ticks": {"size": 8}}},
     {"data": {"name": "dots"}, "transform": [{"filter": "datum.panel === 'infiltrate'"}], "mark": {"type": "tick", "thickness": 1.5, "size": 15}, "encoding": {"y": {"aggregate": "mean", "field": "value", "type": "quantitative", "scale": {"domain": [0, 60]}}}},
     {"data": {"name": "sig"}, "transform": [{"filter": "datum.panel === 'infiltrate'"}], "mark": {"type": "rule", "strokeWidth": 1.3}, "encoding": {"x2": {"field": "group2"}, "color": {"value": "black"}}},
     {"data": {"name": "sig"}, "transform": [{"filter": "datum.panel === 'infiltrate'"}], "mark": {"type": "text", "align": "left", "baseline": "bottom", "dx": 2, "dy": -1, "fontSize": 9}, "encoding": {"text": {"field": "stars"}, "color": {"value": "black"}}}
    ]
   },
   {
    "width": 76, "height": 128,
    "title": {"text": "TAM"},
    "encoding": {
     "x": {"field": "group", "type": "nominal", "scale": {"domain": ["IgG1","αCSF-1R","αCD40","αCSF-1R + αCD40"], "paddingInner": 0.4, "paddingOuter": 0.2}, "axis": {"title": null, "labelAngle": -45}},
     "y": {"field": "value", "type": "quantitative", "scale": {"domain": [0, 30]}, "axis": {"title": null, "values": [0, 10, 20, 30]}},
     "color": {"field": "group", "type": "nominal", "scale": {"domain": ["IgG1","αCSF-1R","αCD40","αCSF-1R + αCD40"], "range": ["#9b9b9b","#2e4a9e","#3b8c3f","#d62a2a"]}, "legend": null}
    },
    "layer": [
     {"data": {"name": "dots"}, "transform": [{"filter": "datum.panel === 'TAM'"}], "mark": {"type": "point", "filled": true, "opacity": 1, "size": 55}, "encoding": {"xOffset": {"field": "mouse", "type": "nominal", "scale": {"domain": [1,2,3,4,5,6,7,8,9,10]}}, "shape": {"field": "group", "type": "nominal", "scale": {"domain": ["IgG1","αCSF-1R","αCD40","αCSF-1R + αCD40"], "range": ["circle","square","triangle-up","triangle-down"]}, "legend": null}}},
     {"data": {"name": "dots"}, "transform": [{"filter": "datum.panel === 'TAM'"}], "mark": {"type": "errorbar", "extent": "stderr", "thickness": 1.5, "ticks": {"size": 8}}},
     {"data": {"name": "dots"}, "transform": [{"filter": "datum.panel === 'TAM'"}], "mark": {"type": "tick", "thickness": 1.5, "size": 15}, "encoding": {"y": {"aggregate": "mean", "field": "value", "type": "quantitative", "scale": {"domain": [0, 30]}}}},
     {"data": {"name": "sig"}, "transform": [{"filter": "datum.panel === 'TAM'"}], "mark": {"type": "rule", "strokeWidth": 1.3}, "encoding": {"x2": {"field": "group2"}, "color": {"value": "black"}}},
     {"data": {"name": "sig"}, "transform": [{"filter": "datum.panel === 'TAM'"}], "mark": {"type": "text", "align": "left", "baseline": "bottom", "dx": 2, "dy": -1, "fontSize": 9}, "encoding": {"text": {"field": "stars"}, "color": {"value": "black"}}}
    ]
   },
   {
    "width": 78, "height": 128,
    "title": {"text": ["total", "MDSC"]},
    "encoding": {
     "x": {"field": "group", "type": "nominal", "scale": {"domain": ["IgG1","αCSF-1R","αCD40","αCSF-1R + αCD40"], "paddingInner": 0.4, "paddingOuter": 0.2}, "axis": {"title": null, "labelAngle": -45}},
     "y": {"field": "value", "type": "quantitative", "scale": {"domain": [0, 20]}, "axis": {"title": null, "values": [0, 5, 10, 15, 20]}},
     "color": {"field": "group", "type": "nominal", "scale": {"domain": ["IgG1","αCSF-1R","αCD40","αCSF-1R + αCD40"], "range": ["#9b9b9b","#2e4a9e","#3b8c3f","#d62a2a"]}, "legend": null}
    },
    "layer": [
     {"data": {"name": "dots"}, "transform": [{"filter": "datum.panel === 'MDSC'"}], "mark": {"type": "point", "filled": true, "opacity": 1, "size": 55}, "encoding": {"xOffset": {"field": "mouse", "type": "nominal", "scale": {"domain": [1,2,3,4,5,6,7,8,9,10]}}, "shape": {"field": "group", "type": "nominal", "scale": {"domain": ["IgG1","αCSF-1R","αCD40","αCSF-1R + αCD40"], "range": ["circle","square","triangle-up","triangle-down"]}, "legend": null}}},
     {"data": {"name": "dots"}, "transform": [{"filter": "datum.panel === 'MDSC'"}], "mark": {"type": "errorbar", "extent": "stderr", "thickness": 1.5, "ticks": {"size": 8}}},
     {"data": {"name": "dots"}, "transform": [{"filter": "datum.panel === 'MDSC'"}], "mark": {"type": "tick", "thickness": 1.5, "size": 15}, "encoding": {"y": {"aggregate": "mean", "field": "value", "type": "quantitative", "scale": {"domain": [0, 20]}}}},
     {"data": {"name": "sig"}, "transform": [{"filter": "datum.panel === 'MDSC'"}], "mark": {"type": "rule", "strokeWidth": 1.3}, "encoding": {"x2": {"field": "group2"}, "color": {"value": "black"}}},
     {"data": {"name": "sig"}, "transform": [{"filter": "datum.panel === 'MDSC'"}], "mark": {"type": "text", "align": "left", "baseline": "bottom", "dx": 2, "dy": -1, "fontSize": 9}, "encoding": {"text": {"field": "stars"}, "color": {"value": "black"}}}
    ]
   },
   {
    "width": 78, "height": 128,
    "title": {"text": ["Ly6Cˡᵒʷ", "MDSC"]},
    "encoding": {
     "x": {"field": "group", "type": "nominal", "scale": {"domain": ["IgG1","αCSF-1R","αCD40","αCSF-1R + αCD40"], "paddingInner": 0.4, "paddingOuter": 0.2}, "axis": {"title": null, "labelAngle": -45}},
     "y": {"field": "value", "type": "quantitative", "scale": {"domain": [0, 8]}, "axis": {"title": null, "values": [0, 2, 4, 6, 8]}},
     "color": {"field": "group", "type": "nominal", "scale": {"domain": ["IgG1","αCSF-1R","αCD40","αCSF-1R + αCD40"], "range": ["#9b9b9b","#2e4a9e","#3b8c3f","#d62a2a"]}, "legend": null}
    },
    "layer": [
     {"data": {"name": "dots"}, "transform": [{"filter": "datum.panel === 'Ly6C'"}], "mark": {"type": "point", "filled": true, "opacity": 1, "size": 55}, "encoding": {"xOffset": {"field": "mouse", "type": "nominal", "scale": {"domain": [1,2,3,4,5,6,7,8,9,10]}}, "shape": {"field": "group", "type": "nominal", "scale": {"domain": ["IgG1","αCSF-1R","αCD40","αCSF-1R + αCD40"], "range": ["circle","square","triangle-up","triangle-down"]}, "legend": null}}},
     {"data": {"name": "dots"}, "transform": [{"filter": "datum.panel === 'Ly6C'"}], "mark": {"type": "errorbar", "extent": "stderr", "thickness": 1.5, "ticks": {"size": 8}}},
     {"data": {"name": "dots"}, "transform": [{"filter": "datum.panel === 'Ly6C'"}], "mark": {"type": "tick", "thickness": 1.5, "size": 15}, "encoding": {"y": {"aggregate": "mean", "field": "value", "type": "quantitative", "scale": {"domain": [0, 8]}}}},
     {"data": {"name": "sig"}, "transform": [{"filter": "datum.panel === 'Ly6C'"}], "mark": {"type": "rule", "strokeWidth": 1.3}, "encoding": {"x2": {"field": "group2"}, "color": {"value": "black"}}},
     {"data": {"name": "sig"}, "transform": [{"filter": "datum.panel === 'Ly6C'"}], "mark": {"type": "text", "align": "left", "baseline": "bottom", "dx": 2, "dy": -1, "fontSize": 9}, "encoding": {"text": {"field": "stars"}, "color": {"value": "black"}}}
    ]
   },
   {
    "width": 86, "height": 128,
    "title": {"text": ["monocytic", "MDSC"]},
    "encoding": {
     "x": {"field": "group", "type": "nominal", "scale": {"domain": ["IgG1","αCSF-1R","αCD40","αCSF-1R + αCD40"], "paddingInner": 0.4, "paddingOuter": 0.2}, "axis": {"title": null, "labelAngle": -45}},
     "y": {"field": "value", "type": "quantitative", "scale": {"domain": [0, 10]}, "axis": {"title": null, "values": [0, 2, 4, 6, 8, 10]}},
     "color": {"field": "group", "type": "nominal", "scale": {"domain": ["IgG1","αCSF-1R","αCD40","αCSF-1R + αCD40"], "range": ["#9b9b9b","#2e4a9e","#3b8c3f","#d62a2a"]}, "legend": null}
    },
    "layer": [
     {"data": {"name": "dots"}, "transform": [{"filter": "datum.panel === 'mono'"}], "mark": {"type": "point", "filled": true, "opacity": 1, "size": 55}, "encoding": {"xOffset": {"field": "mouse", "type": "nominal", "scale": {"domain": [1,2,3,4,5,6,7,8,9,10]}}, "shape": {"field": "group", "type": "nominal", "scale": {"domain": ["IgG1","αCSF-1R","αCD40","αCSF-1R + αCD40"], "range": ["circle","square","triangle-up","triangle-down"]}, "legend": null}}},
     {"data": {"name": "dots"}, "transform": [{"filter": "datum.panel === 'mono'"}], "mark": {"type": "errorbar", "extent": "stderr", "thickness": 1.5, "ticks": {"size": 8}}},
     {"data": {"name": "dots"}, "transform": [{"filter": "datum.panel === 'mono'"}], "mark": {"type": "tick", "thickness": 1.5, "size": 15}, "encoding": {"y": {"aggregate": "mean", "field": "value", "type": "quantitative", "scale": {"domain": [0, 10]}}}},
     {"data": {"name": "sig"}, "transform": [{"filter": "datum.panel === 'mono'"}], "mark": {"type": "rule", "strokeWidth": 1.3}, "encoding": {"x2": {"field": "group2"}, "color": {"value": "black"}}},
     {"data": {"name": "sig"}, "transform": [{"filter": "datum.panel === 'mono'"}], "mark": {"type": "text", "align": "left", "baseline": "bottom", "dx": 2, "dy": -1, "fontSize": 9}, "encoding": {"text": {"field": "stars"}, "color": {"value": "black"}}}
    ]
   },
   {
    "width": 74, "height": 128,
    "title": {"text": ["granulocytic", "MDSC"]},
    "encoding": {
     "x": {"field": "group", "type": "nominal", "scale": {"domain": ["IgG1","αCSF-1R","αCD40","αCSF-1R + αCD40"], "paddingInner": 0.4, "paddingOuter": 0.2}, "axis": {"title": null, "labelAngle": -45}},
     "y": {"field": "value", "type": "quantitative", "scale": {"domain": [0, 6]}, "axis": {"title": null, "values": [0, 2, 4, 6]}},
     "color": {"field": "group", "type": "nominal", "scale": {"domain": ["IgG1","αCSF-1R","αCD40","αCSF-1R + αCD40"], "range": ["#9b9b9b","#2e4a9e","#3b8c3f","#d62a2a"]}, "legend": null}
    },
    "layer": [
     {"data": {"name": "dots"}, "transform": [{"filter": "datum.panel === 'gran'"}], "mark": {"type": "point", "filled": true, "opacity": 1, "size": 55}, "encoding": {"xOffset": {"field": "mouse", "type": "nominal", "scale": {"domain": [1,2,3,4,5,6,7,8,9,10]}}, "shape": {"field": "group", "type": "nominal", "scale": {"domain": ["IgG1","αCSF-1R","αCD40","αCSF-1R + αCD40"], "range": ["circle","square","triangle-up","triangle-down"]}, "legend": null}}},
     {"data": {"name": "dots"}, "transform": [{"filter": "datum.panel === 'gran'"}], "mark": {"type": "errorbar", "extent": "stderr", "thickness": 1.5, "ticks": {"size": 8}}},
     {"data": {"name": "dots"}, "transform": [{"filter": "datum.panel === 'gran'"}], "mark": {"type": "tick", "thickness": 1.5, "size": 15}, "encoding": {"y": {"aggregate": "mean", "field": "value", "type": "quantitative", "scale": {"domain": [0, 6]}}}},
     {"data": {"name": "sig"}, "transform": [{"filter": "datum.panel === 'gran'"}], "mark": {"type": "rule", "strokeWidth": 1.3}, "encoding": {"x2": {"field": "group2"}, "color": {"value": "black"}}},
     {"data": {"name": "sig"}, "transform": [{"filter": "datum.panel === 'gran'"}], "mark": {"type": "text", "align": "left", "baseline": "bottom", "dx": 2, "dy": -1, "fontSize": 9}, "encoding": {"text": {"field": "stars"}, "color": {"value": "black"}}}
    ]
   }
  ]
 },
 {
  "spacing": 14,
  "center": true,
  "resolve": {"scale": {"color": "independent", "shape": "independent"}},
  "hconcat": [
   {
    "title": {"text": "B", "anchor": "start", "fontSize": 18, "offset": -29},
    "spacing": 14,
    "hconcat": [
     {
      "spacing": 30,
      "hconcat": [
       {
        "width": 88, "height": 128,
        "title": {"text": ["", "NK cells"], "lineHeight": 15},
        "encoding": {
         "x": {"field": "group", "type": "nominal", "scale": {"domain": ["IgG1","αCSF-1R","αCD40","αCSF-1R + αCD40"], "paddingInner": 0.4, "paddingOuter": 0.2}, "axis": {"title": null, "labelAngle": -45}},
         "y": {"field": "value", "type": "quantitative", "scale": {"domain": [0, 3]}, "axis": {"title": "% of tumor", "values": [0, 1, 2, 3], "titlePadding": 26}},
         "color": {"field": "group", "type": "nominal", "scale": {"domain": ["IgG1","αCSF-1R","αCD40","αCSF-1R + αCD40"], "range": ["#9b9b9b","#2e4a9e","#3b8c3f","#d62a2a"]}, "legend": null}
        },
        "layer": [
         {"data": {"name": "dots"}, "transform": [{"filter": "datum.panel === 'NK'"}], "mark": {"type": "point", "filled": true, "opacity": 1, "size": 55}, "encoding": {"xOffset": {"field": "mouse", "type": "nominal", "scale": {"domain": [1,2,3,4,5,6,7,8,9,10]}}, "shape": {"field": "group", "type": "nominal", "scale": {"domain": ["IgG1","αCSF-1R","αCD40","αCSF-1R + αCD40"], "range": ["circle","square","triangle-up","triangle-down"]}, "legend": null}}},
         {"data": {"name": "dots"}, "transform": [{"filter": "datum.panel === 'NK'"}], "mark": {"type": "errorbar", "extent": "stderr", "thickness": 1.5, "ticks": {"size": 8}}},
         {"data": {"name": "dots"}, "transform": [{"filter": "datum.panel === 'NK'"}], "mark": {"type": "tick", "thickness": 1.5, "size": 15}, "encoding": {"y": {"aggregate": "mean", "field": "value", "type": "quantitative", "scale": {"domain": [0, 3]}}}},
         {"data": {"name": "sig"}, "transform": [{"filter": "datum.panel === 'NK'"}], "mark": {"type": "rule", "strokeWidth": 1.3}, "encoding": {"x2": {"field": "group2"}, "color": {"value": "black"}}},
         {"data": {"name": "sig"}, "transform": [{"filter": "datum.panel === 'NK'"}], "mark": {"type": "text", "align": "left", "baseline": "bottom", "dx": 2, "dy": -1, "fontSize": 9}, "encoding": {"text": {"field": "stars"}, "color": {"value": "black"}}}
        ]
       },
       {
        "width": 78, "height": 128,
        "title": {"text": ["", "CD8⁺ T cells"], "lineHeight": 15},
        "encoding": {
         "x": {"field": "group", "type": "nominal", "scale": {"domain": ["IgG1","αCSF-1R","αCD40","αCSF-1R + αCD40"], "paddingInner": 0.4, "paddingOuter": 0.2}, "axis": {"title": null, "labelAngle": -45}},
         "y": {"field": "value", "type": "quantitative", "scale": {"domain": [0, 6]}, "axis": {"title": null, "values": [0, 2, 4, 6]}},
         "color": {"field": "group", "type": "nominal", "scale": {"domain": ["IgG1","αCSF-1R","αCD40","αCSF-1R + αCD40"], "range": ["#9b9b9b","#2e4a9e","#3b8c3f","#d62a2a"]}, "legend": null}
        },
        "layer": [
         {"data": {"name": "dots"}, "transform": [{"filter": "datum.panel === 'CD8'"}], "mark": {"type": "point", "filled": true, "opacity": 1, "size": 55}, "encoding": {"xOffset": {"field": "mouse", "type": "nominal", "scale": {"domain": [1,2,3,4,5,6,7,8,9,10]}}, "shape": {"field": "group", "type": "nominal", "scale": {"domain": ["IgG1","αCSF-1R","αCD40","αCSF-1R + αCD40"], "range": ["circle","square","triangle-up","triangle-down"]}, "legend": null}}},
         {"data": {"name": "dots"}, "transform": [{"filter": "datum.panel === 'CD8'"}], "mark": {"type": "errorbar", "extent": "stderr", "thickness": 1.5, "ticks": {"size": 8}}},
         {"data": {"name": "dots"}, "transform": [{"filter": "datum.panel === 'CD8'"}], "mark": {"type": "tick", "thickness": 1.5, "size": 15}, "encoding": {"y": {"aggregate": "mean", "field": "value", "type": "quantitative", "scale": {"domain": [0, 6]}}}},
         {"data": {"name": "sig"}, "transform": [{"filter": "datum.panel === 'CD8'"}], "mark": {"type": "rule", "strokeWidth": 1.3}, "encoding": {"x2": {"field": "group2"}, "color": {"value": "black"}}},
         {"data": {"name": "sig"}, "transform": [{"filter": "datum.panel === 'CD8'"}], "mark": {"type": "text", "align": "left", "baseline": "bottom", "dx": 2, "dy": -1, "fontSize": 9}, "encoding": {"text": {"field": "stars"}, "color": {"value": "black"}}}
        ]
       }
      ]
     },
     {
      "spacing": 8,
      "hconcat": [
       {
        "width": 82, "height": 128,
        "title": {"text": ["", "CD4⁺ T cells"], "lineHeight": 15},
        "encoding": {
         "x": {"field": "group", "type": "nominal", "scale": {"domain": ["IgG1","αCSF-1R","αCD40","αCSF-1R + αCD40"], "paddingInner": 0.4, "paddingOuter": 0.2}, "axis": {"title": null, "labelAngle": -45}},
         "y": {"field": "value", "type": "quantitative", "scale": {"domain": [0, 4]}, "axis": {"title": null, "values": [0, 1, 2, 3, 4]}},
         "color": {"field": "group", "type": "nominal", "scale": {"domain": ["IgG1","αCSF-1R","αCD40","αCSF-1R + αCD40"], "range": ["#9b9b9b","#2e4a9e","#3b8c3f","#d62a2a"]}, "legend": null}
        },
        "layer": [
         {"data": {"name": "dots"}, "transform": [{"filter": "datum.panel === 'CD4'"}], "mark": {"type": "point", "filled": true, "opacity": 1, "size": 55}, "encoding": {"xOffset": {"field": "mouse", "type": "nominal", "scale": {"domain": [1,2,3,4,5,6,7,8,9,10]}}, "shape": {"field": "group", "type": "nominal", "scale": {"domain": ["IgG1","αCSF-1R","αCD40","αCSF-1R + αCD40"], "range": ["circle","square","triangle-up","triangle-down"]}, "legend": null}}},
         {"data": {"name": "dots"}, "transform": [{"filter": "datum.panel === 'CD4'"}], "mark": {"type": "errorbar", "extent": "stderr", "thickness": 1.5, "ticks": {"size": 8}}},
         {"data": {"name": "dots"}, "transform": [{"filter": "datum.panel === 'CD4'"}], "mark": {"type": "tick", "thickness": 1.5, "size": 15}, "encoding": {"y": {"aggregate": "mean", "field": "value", "type": "quantitative", "scale": {"domain": [0, 4]}}}}
        ]
       },
       {
        "width": 88, "height": 128,
        "title": {"text": ["", "T reg"], "lineHeight": 15},
        "encoding": {
         "x": {"field": "group", "type": "nominal", "scale": {"domain": ["IgG1","αCSF-1R","αCD40","αCSF-1R + αCD40"], "paddingInner": 0.4, "paddingOuter": 0.2}, "axis": {"title": null, "labelAngle": -45}},
         "y": {"field": "value", "type": "quantitative", "scale": {"domain": [0, 4]}, "axis": {"title": null, "values": [0, 1, 2, 3, 4]}},
         "color": {"field": "group", "type": "nominal", "scale": {"domain": ["IgG1","αCSF-1R","αCD40","αCSF-1R + αCD40"], "range": ["#9b9b9b","#2e4a9e","#7cc142","#d62a2a"]}, "legend": null}
        },
        "layer": [
         {"data": {"name": "dots"}, "transform": [{"filter": "datum.panel === 'Treg'"}], "mark": {"type": "point", "filled": true, "opacity": 1, "size": 45}, "encoding": {"xOffset": {"field": "mouse", "type": "nominal", "scale": {"domain": [1,2,3,4,5,6,7,8,9,10]}}, "shape": {"field": "group", "type": "nominal", "scale": {"domain": ["IgG1","αCSF-1R","αCD40","αCSF-1R + αCD40"], "range": ["circle","square","triangle-up","triangle-down"]}, "legend": null}}},
         {"data": {"name": "dots"}, "transform": [{"filter": "datum.panel === 'Treg'"}], "mark": {"type": "errorbar", "extent": "stderr", "thickness": 1.5, "ticks": {"size": 8}}},
         {"data": {"name": "dots"}, "transform": [{"filter": "datum.panel === 'Treg'"}], "mark": {"type": "tick", "thickness": 1.5, "size": 15}, "encoding": {"y": {"aggregate": "mean", "field": "value", "type": "quantitative", "scale": {"domain": [0, 4]}}}}
        ]
       }
      ]
     }
    ]
   },
   {
    "title": {"text": "C", "anchor": "start", "fontSize": 18, "offset": 2},
    "width": 163, "height": 162,
    "encoding": {
     "x": {"field": "day", "type": "quantitative", "scale": {"domain": [0, 75], "nice": false}, "axis": {"values": [0, 20, 40, 60], "title": "days after inoculation", "titleFontSize": 10.5, "labelFontSize": 10}},
     "y": {"field": "pct", "type": "quantitative", "scale": {"domain": [0, 110], "nice": false}, "axis": {"values": [0, 25, 50, 75, 100], "title": ["% progression free survival", "≥ 700mm³ tumor volume"], "titleFontSize": 13, "labelFontSize": 10, "titlePadding": 8}},
     "color": {"field": "series", "type": "nominal", "scale": {"domain": ["mIgG1", "αCD40", "αCD40 + αCSF-1R weekly", "αCD40 + αCSF-1R 1x", "αCD40 + αCSF-1R 2x"], "range": ["#a8a8a8", "#6db33f", "#d32f2f", "#f0962e", "#4f86a8"]}, "legend": {"orient": "bottom", "direction": "vertical", "title": null, "offset": 8}}
    },
    "layer": [
     {"data": {"name": "surv"}, "transform": [{"filter": "datum.panel === 'C'"}], "mark": {"type": "line", "interpolate": "step-after", "strokeWidth": 1.6}},
     {"data": {"name": "survLabels"}, "transform": [{"filter": "datum.panel === 'C'"}], "mark": {"type": "text", "align": "left", "baseline": "middle", "dx": 3, "fontSize": 12}, "encoding": {"text": {"field": "label"}}}
    ]
   }
  ]
 },
 {
  "title": {"text": "D", "anchor": "start", "fontSize": 18, "offset": -12},
  "spacing": 4,
  "resolve": {"scale": {"color": "independent"}},
  "hconcat": [
   {
    "width": 103, "height": 163,
    "title": {"text": ["pre-treatment", "mIgG1"], "offset": -2},
    "encoding": {
     "x": {"field": "day", "type": "quantitative", "scale": {"domain": [0, 60], "nice": false}, "axis": {"values": [0, 20, 40], "title": "days after inoculation", "titleFontSize": 14, "labelFontSize": 10, "titlePadding": 2}},
     "y": {"field": "pct", "type": "quantitative", "scale": {"domain": [0, 110], "nice": false}, "axis": {"values": [0, 25, 50, 75, 100], "title": ["% progression free survival", "≥ 700mm³ tumor volume"], "titleFontSize": 13, "labelFontSize": 10, "titlePadding": 6}},
     "color": {"field": "series", "type": "nominal", "scale": {"domain": ["mIgG1", "αCD40", "αCSF-1R-FcØ + αCD40", "αCSF-1R + αCD40"], "range": ["#a8a8a8", "#6db33f", "#4a7cc9", "#d32f2f"]}, "legend": null}
    },
    "layer": [
     {"data": {"name": "surv"}, "transform": [{"filter": "datum.panel === 'D1'"}], "mark": {"type": "line", "interpolate": "step-after", "strokeWidth": 1.6}},
     {"data": {"name": "survLabels"}, "transform": [{"filter": "datum.panel === 'D1'"}], "mark": {"type": "text", "align": "left", "baseline": "middle", "dx": 3, "fontSize": 14}, "encoding": {"text": {"field": "label"}}}
    ]
   },
   {
    "width": 110, "height": 163,
    "title": {"text": ["pre-treatment", "mIgG1-FcØ"], "offset": -2},
    "encoding": {
     "x": {"field": "day", "type": "quantitative", "scale": {"domain": [0, 56], "nice": false}, "axis": {"values": [0, 20, 40], "title": "days after inoculation", "titleFontSize": 14, "labelFontSize": 10, "titlePadding": 2}},
     "y": {"field": "pct", "type": "quantitative", "scale": {"domain": [0, 110], "nice": false}, "axis": {"values": [0, 25, 50, 75, 100], "title": null, "labelFontSize": 10}},
     "color": {"field": "series", "type": "nominal", "scale": {"domain": ["mIgG1", "αCD40", "αCSF-1R-FcØ + αCD40", "αCSF-1R + αCD40"], "range": ["#a8a8a8", "#6db33f", "#4a7cc9", "#d32f2f"]}, "legend": null}
    },
    "layer": [
     {"data": {"name": "surv"}, "transform": [{"filter": "datum.panel === 'D2'"}], "mark": {"type": "line", "interpolate": "step-after", "strokeWidth": 1.6}},
     {"data": {"name": "survLabels"}, "transform": [{"filter": "datum.panel === 'D2'"}], "mark": {"type": "text", "align": "left", "baseline": "middle", "dx": 3, "fontSize": 14}, "encoding": {"text": {"field": "label"}}}
    ]
   },
   {
    "width": 108, "height": 163,
    "title": {"text": ["pre-treatment", "αCSF-1R-FcØ"], "offset": -2},
    "encoding": {
     "x": {"field": "day", "type": "quantitative", "scale": {"domain": [0, 56], "nice": false}, "axis": {"values": [0, 20, 40], "title": "days after inoculation", "titleFontSize": 14, "labelFontSize": 10, "titlePadding": 2}},
     "y": {"field": "pct", "type": "quantitative", "scale": {"domain": [0, 110], "nice": false}, "axis": {"values": [0, 25, 50, 75, 100], "title": null, "labelFontSize": 10}},
     "color": {"field": "series", "type": "nominal", "scale": {"domain": ["mIgG1", "αCD40", "αCSF-1R-FcØ + αCD40", "αCSF-1R + αCD40"], "range": ["#a8a8a8", "#6db33f", "#4a7cc9", "#d32f2f"]}, "legend": {"orient": "none", "legendX": 115, "legendY": 102, "title": null}}
    },
    "layer": [
     {"data": {"name": "surv"}, "transform": [{"filter": "datum.panel === 'D3'"}], "mark": {"type": "line", "interpolate": "step-after", "strokeWidth": 1.6}},
     {"data": {"name": "survLabels"}, "transform": [{"filter": "datum.panel === 'D3'"}], "mark": {"type": "text", "align": "left", "baseline": "middle", "dx": 3, "fontSize": 14}, "encoding": {"text": {"field": "label"}}}
    ]
   }
  ]
 }
]
}
